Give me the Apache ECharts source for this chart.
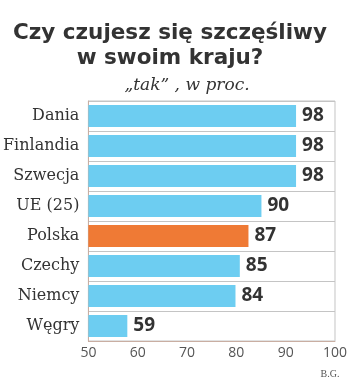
<!DOCTYPE html>
<html>
<head>
<meta charset="utf-8">
<script src="https://cdn.jsdelivr.net/npm/echarts@6/dist/echarts.min.js"></script>
<style>
html,body{margin:0;padding:0;background:#fff;}
#c{width:350px;height:379px;}
</style>
</head>
<body>
<div id="c"></div>
<script>
const categories = ['Dania', 'Finlandia', 'Szwecja', 'UE (25)', 'Polska', 'Czechy', 'Niemcy', 'Węgry'];
const values = [98, 98, 98, 90, 87, 85, 84, 59];
const tickLabels = [50, 60, 70, 80, 90, 100];
const highlight = 'Polska';

const chart = echarts.init(document.getElementById('c'), null, {renderer: 'canvas'});
const option = {
  backgroundColor: '#fff',
  animation: false,
  title: [
    {
      text: 'Czy czujesz się szczęśliwy\nw swoim kraju?',
      left: 165, top: 16, textAlign: 'center',
      textStyle: {fontFamily: 'DejaVu Sans', fontWeight: 'bold', fontSize: 21.5, lineHeight: 25, color: '#333'}
    },
    {
      text: '„tak” , w proc.',
      left: 182, top: 72, textAlign: 'center',
      textStyle: {fontFamily: 'DejaVu Serif', fontStyle: 'italic', fontWeight: 'normal', fontSize: 17, color: '#333'}
    },
    {
      text: 'B.G.',
      left: 325, top: 364, textAlign: 'center',
      textStyle: {fontFamily: 'Liberation Serif', fontWeight: 'normal', fontSize: 10, color: '#555'}
    }
  ],
  grid: {left: 87, right: 12, top: 101, height: 240, show: true, borderColor: '#c4c4c4', borderWidth: 1},
  xAxis: [
    {
      type: 'value', min: tickLabels[0], max: tickLabels[tickLabels.length - 1], interval: 10,
      axisLine: {show: true, lineStyle: {color: '#c9aea2', width: 1}},
      axisTick: {show: false},
      splitLine: {show: false},
      axisLabel: {margin: 5, fontFamily: 'Open Sans', fontSize: 14, color: '#555',
        formatter: v => tickLabels.includes(v) ? String(v) : ''}
    },
    {
      type: 'value', min: 50, max: 107, show: false
    }
  ],
  yAxis: {
    type: 'category', data: categories, inverse: true,
    axisLine: {show: true, lineStyle: {color: '#c9aea2', width: 1}},
    axisTick: {show: false},
    splitLine: {show: true, lineStyle: {color: '#c4c4c4', width: 1}},
    axisLabel: {margin: 9, fontFamily: 'DejaVu Serif', fontSize: 16, color: '#333'}
  },
  series: [{
    type: 'bar',
    xAxisIndex: 1,
    barWidth: 22,
    data: values.map((v, i) => ({
      value: v,
      itemStyle: {color: categories[i] === highlight ? '#ef7a35' : '#6dcdf1'}
    })),
    label: {
      show: true, position: 'right', distance: 6,
      fontFamily: 'Open Sans', fontWeight: 'bold', fontSize: 19, color: '#333'
    }
  }]
};
chart.setOption(option);
</script>
</body>
</html>
